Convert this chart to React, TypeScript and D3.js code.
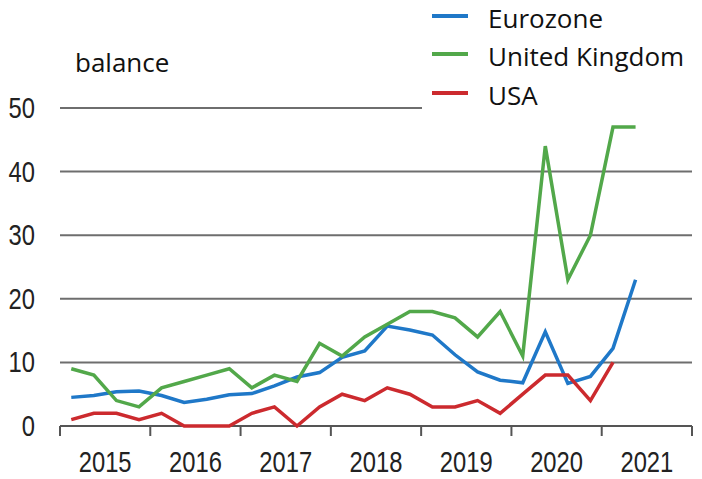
import React, { useEffect, useRef } from 'react';
import * as d3 from 'd3';

// quarterly survey balances, 2015 Q1 .. 2021 Q2
const quarters = [
    '2015Q1', '2015Q2', '2015Q3', '2015Q4',
    '2016Q1', '2016Q2', '2016Q3', '2016Q4',
    '2017Q1', '2017Q2', '2017Q3', '2017Q4',
    '2018Q1', '2018Q2', '2018Q3', '2018Q4',
    '2019Q1', '2019Q2', '2019Q3', '2019Q4',
    '2020Q1', '2020Q2', '2020Q3', '2020Q4',
    '2021Q1', '2021Q2',
];
const eurozone = [4.5, 4.8, 5.4, 5.5, 4.8, 3.7, 4.2, 4.9, 5.1, 6.3, 7.7, 8.4, 10.8, 11.8, 15.7, 15.1, 14.3, 11.2, 8.5, 7.2, 6.8, 14.8, 6.7, 7.8, 12.2, 23];
const unitedKingdom = [9, 8, 4, 3, 6, 7, 8, 9, 6, 8, 7, 13, 11, 14, 16, 18, 18, 17, 14, 18, 11, 44, 23, 30, 47, 47];
const usa: (number | null)[] = [1, 2, 2, 1, 2, 0, 0, 0, 2, 3, 0, 3, 5, 4, 6, 5, 3, 3, 4, 2, 5, 8, 8, 4, 10, null];
const years = [2015, 2016, 2017, 2018, 2019, 2020, 2021];
const yTicks = [0, 10, 20, 30, 40, 50];

const series = [
    { name: 'Eurozone', values: eurozone, color: '#1f78c8' },
    { name: 'United Kingdom', values: unitedKingdom, color: '#52a84a' },
    { name: 'USA', values: usa, color: '#cc2a2e' },
];

const W = 702;
const H = 479;
// condensed look for the tick numbers (no narrow font installed)
const tickFont = '"Liberation Sans", Arial, sans-serif';

const App: React.FC = () => {
    const svgRef = useRef<SVGSVGElement>(null);

    useEffect(() => {
        if (!svgRef.current) return;
        const svg = d3.select(svgRef.current);
        svg.selectAll('*').remove();

        const x = d3.scaleLinear().domain([2015, 2022]).range([60, 692]);
        const y = d3.scaleLinear().domain([0, 50]).range([426, 108]);
        const qx = (q: string) => {
            const yr = +q.slice(0, 4);
            const n = +q.slice(5);
            return x(yr + (n - 0.5) / 4);
        };

        svg.append('rect').attr('width', W).attr('height', H).attr('fill', '#fff');

        // gridlines
        svg.append('g')
            .selectAll('line')
            .data(yTicks.filter(d => d > 0))
            .enter()
            .append('line')
            .attr('x1', x(2015))
            .attr('x2', x(2022))
            .attr('y1', d => y(d))
            .attr('y2', d => y(d))
            .attr('stroke', '#6e6e6e')
            .attr('stroke-width', 2);

        // y labels
        svg.append('g')
            .selectAll('text')
            .data(yTicks)
            .enter()
            .append('text')
            .attr('transform', d => `translate(35, ${y(d) + 10}) scale(0.82, 1)`)
            .attr('text-anchor', 'end')
            .style('font-family', tickFont)
            .style('font-size', '29px')
            .style('fill', '#222')
            .text(d => d);

        // x axis
        const xAxis = svg.append('g');
        xAxis.append('line')
            .attr('x1', x(2015)).attr('x2', x(2022))
            .attr('y1', y(0)).attr('y2', y(0))
            .attr('stroke', '#555').attr('stroke-width', 2);
        xAxis.selectAll('line.tick')
            .data([...years, 2022])
            .enter()
            .append('line')
            .attr('class', 'tick')
            .attr('x1', d => x(d)).attr('x2', d => x(d))
            .attr('y1', y(0)).attr('y2', y(0) + 10)
            .attr('stroke', '#555').attr('stroke-width', 2);
        xAxis.selectAll('text')
            .data(years)
            .enter()
            .append('text')
            .attr('transform', d => `translate(${x(d + 0.5)}, 472) scale(0.82, 1)`)
            .attr('text-anchor', 'middle')
            .style('font-family', tickFont)
            .style('font-size', '29px')
            .style('fill', '#222')
            .text(d => d);

        // lines
        const line = d3.line<number | null>()
            .defined(d => d !== null)
            .x((_, i) => qx(quarters[i]))
            .y(d => y(d as number));

        svg.append('g')
            .selectAll('path')
            .data(series)
            .enter()
            .append('path')
            .attr('d', d => line(d.values))
            .attr('fill', 'none')
            .attr('stroke', d => d.color)
            .attr('stroke-width', 3.5)
            .attr('stroke-linejoin', 'miter');

        // legend, with white background over the top gridline
        svg.append('rect')
            .attr('x', 422).attr('y', 0)
            .attr('width', W - 422).attr('height', 113)
            .attr('fill', '#fff');
        const legend = svg.append('g')
            .selectAll('g')
            .data(series)
            .enter()
            .append('g')
            .attr('transform', (_, i) => `translate(0, ${[16, 54, 93][i]})`);
        legend.append('line')
            .attr('x1', 432).attr('x2', 468)
            .attr('stroke', d => d.color)
            .attr('stroke-width', 4);
        legend.append('text')
            .attr('x', 488)
            .attr('y', 12)
            .style('font-family', '"Open Sans", sans-serif')
            .style('font-size', '26px')
            .style('fill', '#111')
            .text(d => d.name);

        svg.append('text')
            .attr('x', 75)
            .attr('y', 72)
            .style('font-family', '"Open Sans", sans-serif')
            .style('font-size', '26px')
            .style('fill', '#111')
            .text('balance');
    }, []);

    return (
        <svg ref={svgRef} width={W} height={H} style={{ position: 'absolute', left: 0, top: 0 }} />
    );
};

export default App;
